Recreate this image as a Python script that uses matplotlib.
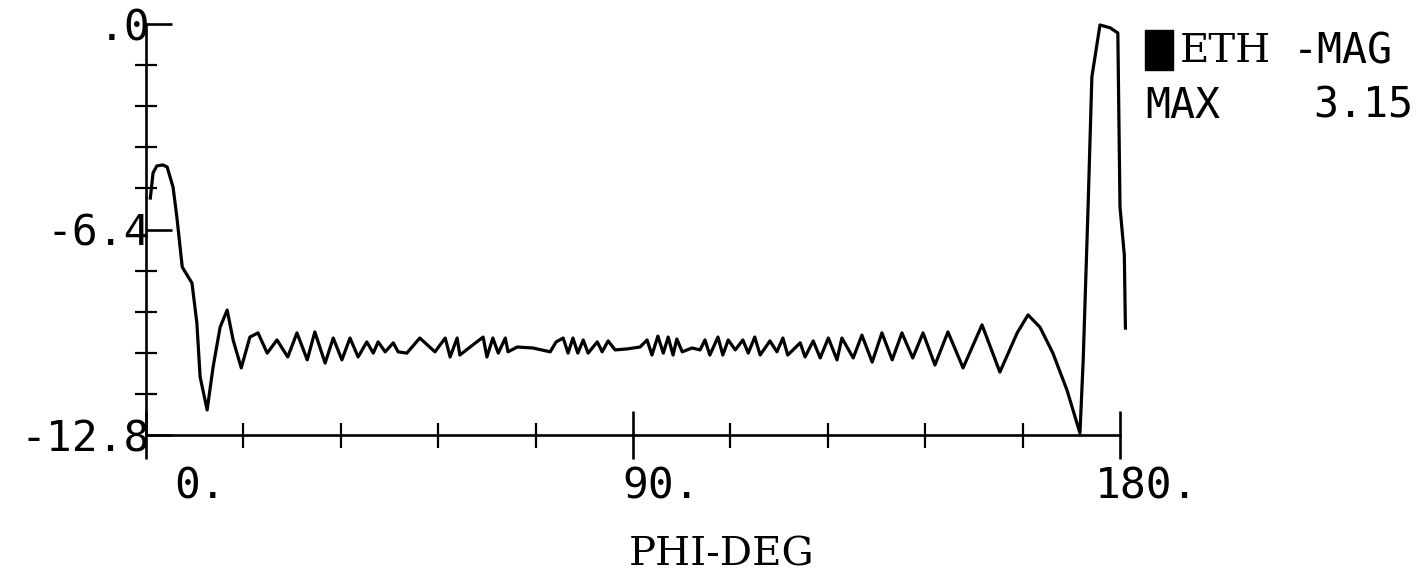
import matplotlib
matplotlib.use("Agg")
import matplotlib.pyplot as plt
from matplotlib.patches import Rectangle

plt.rcParams['font.family'] = ['DejaVu Sans Mono']

# ETH magnitude (dB) against PHI (deg)
phi = [0.8, 1.3, 2.0, 3.1, 3.9, 5.0, 5.7, 6.7, 8.5, 9.4,
       10.0, 11.3, 12.4, 13.7, 15.0, 16.1, 17.6, 19.2, 20.7, 22.4,
       24.2, 26.2, 27.9, 29.8, 31.2, 33.1, 34.6, 36.2, 37.7, 39.2,
       40.8, 42.0, 42.9, 44.2, 45.7, 46.6, 48.2, 50.6, 53.4, 55.3,
       56.2, 57.5, 58.0, 59.9, 62.3, 63.0, 64.1, 65.1, 66.4, 66.9,
       68.6, 71.5, 74.7, 75.8, 77.1, 78.0, 78.9, 79.8, 80.8, 81.7,
       83.4, 84.3, 85.4, 86.7, 88.9, 91.3, 92.6, 93.5, 94.6, 95.6,
       96.5, 97.4, 98.1, 99.1, 100.9, 102.4, 103.3, 104.2, 105.7, 106.6,
       107.6, 108.9, 110.3, 111.3, 112.5, 113.5, 115.3, 116.6, 117.7, 118.6,
       120.9, 121.8, 123.3, 124.6, 126.1, 127.7, 128.6, 130.7, 132.3, 134.2,
       136.0, 137.9, 139.7, 141.7, 143.6, 145.8, 148.2, 151.0, 154.5, 157.8,
       161.0, 163.0, 165.2, 167.6, 170.2, 172.6, 173.2, 174.1, 174.8, 176.3,
       178.2, 179.6, 180.0, 180.8, 181.0]
mag = [-5.42, -4.64, -4.42, -4.39, -4.45, -5.08, -6.01, -7.57, -8.07, -9.31,
       -10.99, -12.02, -10.68, -9.44, -8.91, -9.84, -10.71, -9.75, -9.62, -10.25,
       -9.84, -10.37, -9.62, -10.46, -9.59, -10.56, -9.78, -10.46, -9.78, -10.37,
       -9.90, -10.25, -9.90, -10.21, -9.93, -10.21, -10.25, -9.78, -10.21, -9.78,
       -10.37, -9.78, -10.31, -10.06, -9.75, -10.37, -9.78, -10.25, -9.78, -10.21,
       -10.06, -10.09, -10.21, -9.90, -9.78, -10.25, -9.78, -10.25, -9.84, -10.25,
       -9.90, -10.21, -9.87, -10.15, -10.12, -10.06, -9.84, -10.31, -9.72, -10.25,
       -9.75, -10.31, -9.81, -10.21, -10.09, -10.15, -9.84, -10.31, -9.75, -10.31,
       -9.84, -10.15, -9.84, -10.25, -9.75, -10.31, -9.87, -10.21, -9.78, -10.31,
       -9.93, -10.37, -9.87, -10.40, -9.78, -10.46, -9.78, -10.40, -9.69, -10.53,
       -9.62, -10.46, -9.62, -10.40, -9.62, -10.62, -9.59, -10.71, -9.37, -10.84,
       -9.62, -9.06, -9.44, -10.25, -11.40, -12.74, -10.46, -5.70, -1.65, -0.03,
       -0.12, -0.28, -5.70, -7.20, -9.47]

x_major = [0, 90, 180]
x_labels = ["0.", "90.", "180."]
x_minor = [18, 36, 54, 72, 108, 126, 144, 162]
y_major = [0, -6.4, -12.8]
y_labels = [".0", "-6.4", "-12.8"]
y_minor = [-1.28, -2.56, -3.84, -5.12, -7.68, -8.96, -10.24, -11.52]

W, H = 1427, 580
fig = plt.figure(figsize=(W / 100, H / 100), dpi=100)
ax = fig.add_axes([146 / W, 1 - 435 / H, (1120 - 146) / W, (435 - 24) / H])

ax.plot(phi, mag, color="black", lw=2.3, clip_on=False)
ax.set_xlim(0, 180)
ax.set_ylim(-12.8, 0)

for s in ["top", "right"]:
    ax.spines[s].set_visible(False)
for s in ["left", "bottom"]:
    ax.spines[s].set_linewidth(1.9)
    ax.spines[s].set_color("black")

ax.set_xticks(x_major)
ax.set_xticklabels([])
ax.set_xticks(x_minor, minor=True)
ax.tick_params(axis="x", which="major", direction="inout", length=34, width=1.9)
ax.tick_params(axis="x", which="minor", direction="inout", length=18, width=1.6)

ax.set_yticks(y_major)
ax.set_yticklabels(y_labels, fontsize=31)
ax.set_yticks(y_minor, minor=True)
ax.tick_params(axis="y", which="major", direction="in", length=19, width=1.9, pad=-3)
ax.tick_params(axis="y", which="minor", direction="inout", length=16.5, width=1.6)

# x tick labels sit to the right of their ticks, like the plotter output
x_offsets = [39, 20, 19.5]
for xv, lab, dx in zip(x_major, x_labels, x_offsets):
    ax.annotate(lab, xy=(xv, 0), xycoords=("data", "axes fraction"),
                xytext=(dx, -37), textcoords="offset points",
                ha="center", va="center", fontsize=31)

fig.text(722 / W, 1 - 555 / H, "PHI-DEG", family="DejaVu Serif",
         fontsize=29, ha="center", va="center")

# legend block
fig.patches.append(Rectangle((1145 / W, 1 - 70 / H), 28 / W, 40 / H,
                             transform=fig.transFigure, color="black"))
fig.text(1180 / W, 1 - 52 / H, "ETH", family="DejaVu Serif",
         fontsize=29, ha="left", va="center")
fig.text(1293 / W, 1 - 52 / H, "-MAG", fontsize=30, ha="left", va="center")
fig.text(1145 / W, 1 - 106 / H, "MAX", fontsize=30, ha="left", va="center")
fig.text(1313 / W, 1 - 106 / H, "3.15", fontsize=30, ha="left", va="center")

fig.savefig("out.png", dpi=100, facecolor="white")
